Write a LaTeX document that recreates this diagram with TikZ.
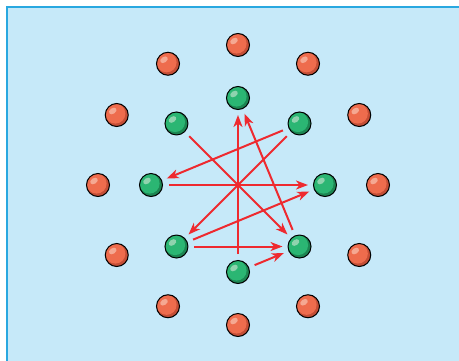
\documentclass[tikz,border=0pt]{standalone}
\usepackage{tikz}
\usetikzlibrary{arrows.meta}
\definecolor{sky}{HTML}{C6E9F9}
\definecolor{skyedge}{HTML}{29A8E0}
\definecolor{grn}{HTML}{2BB673}
\definecolor{grndark}{HTML}{1C8552}
\definecolor{grnlite}{HTML}{8FD3AE}
\definecolor{org}{HTML}{EE6C4D}
\definecolor{orgdark}{HTML}{C44E36}
\definecolor{orglite}{HTML}{F5A892}
\definecolor{arrowred}{HTML}{EE2A2F}
\tikzset{
  ball/.style={circle, draw=black, line width=1bp, minimum size=23bp, inner sep=0pt,
    path picture={
      \fill[#1dark] (path picture bounding box.center) circle (12bp);
      \fill[#1] ([shift={(-1.4bp,1.4bp)}]path picture bounding box.center) circle (10bp);
      \fill[#1lite] ([shift={(-4bp,4bp)}]path picture bounding box.center)
        ellipse [x radius=4.2bp, y radius=2.8bp, rotate=35];
    }},
  gball/.style={ball=grn},
  oball/.style={ball=org},
  flow/.style={-{Stealth[length=12bp, width=9bp, inset=3.5bp]}, draw=arrowred,
    line width=2bp, shorten <=6bp, shorten >=5bp}
}

\begin{document}
\begin{tikzpicture}[x=1bp, y=1bp]
  \useasboundingbox (-238,-175) rectangle (221,185);
  \begin{scope}
    \clip (-238,-175) rectangle (221,185);
    \draw[skyedge, fill=sky, line width=2bp] (-231,178) rectangle (230,-185);
  \end{scope}

  % outer ring
  \foreach \a in {0,30,...,330}
    \node[oball] (o\a) at (\a:140) {};
  % inner ring
  \foreach \a in {0,45,...,315}
    \node[gball] (g\a) at (\a:87) {};

  \draw[flow] (g270) -- (g90);
  \draw[flow] (g315) -- (g90);
  \draw[flow] (g45) -- (g180);
  \draw[flow] (g45) -- (g225);
  \draw[flow] (g135) -- (g315);
  \draw[flow] (g180) -- (g0);
  \draw[flow] (g225) -- (g0);
  \draw[flow] (g225) -- (g315);
  \draw[flow] (g270) -- (g315);
\end{tikzpicture}
\end{document}
